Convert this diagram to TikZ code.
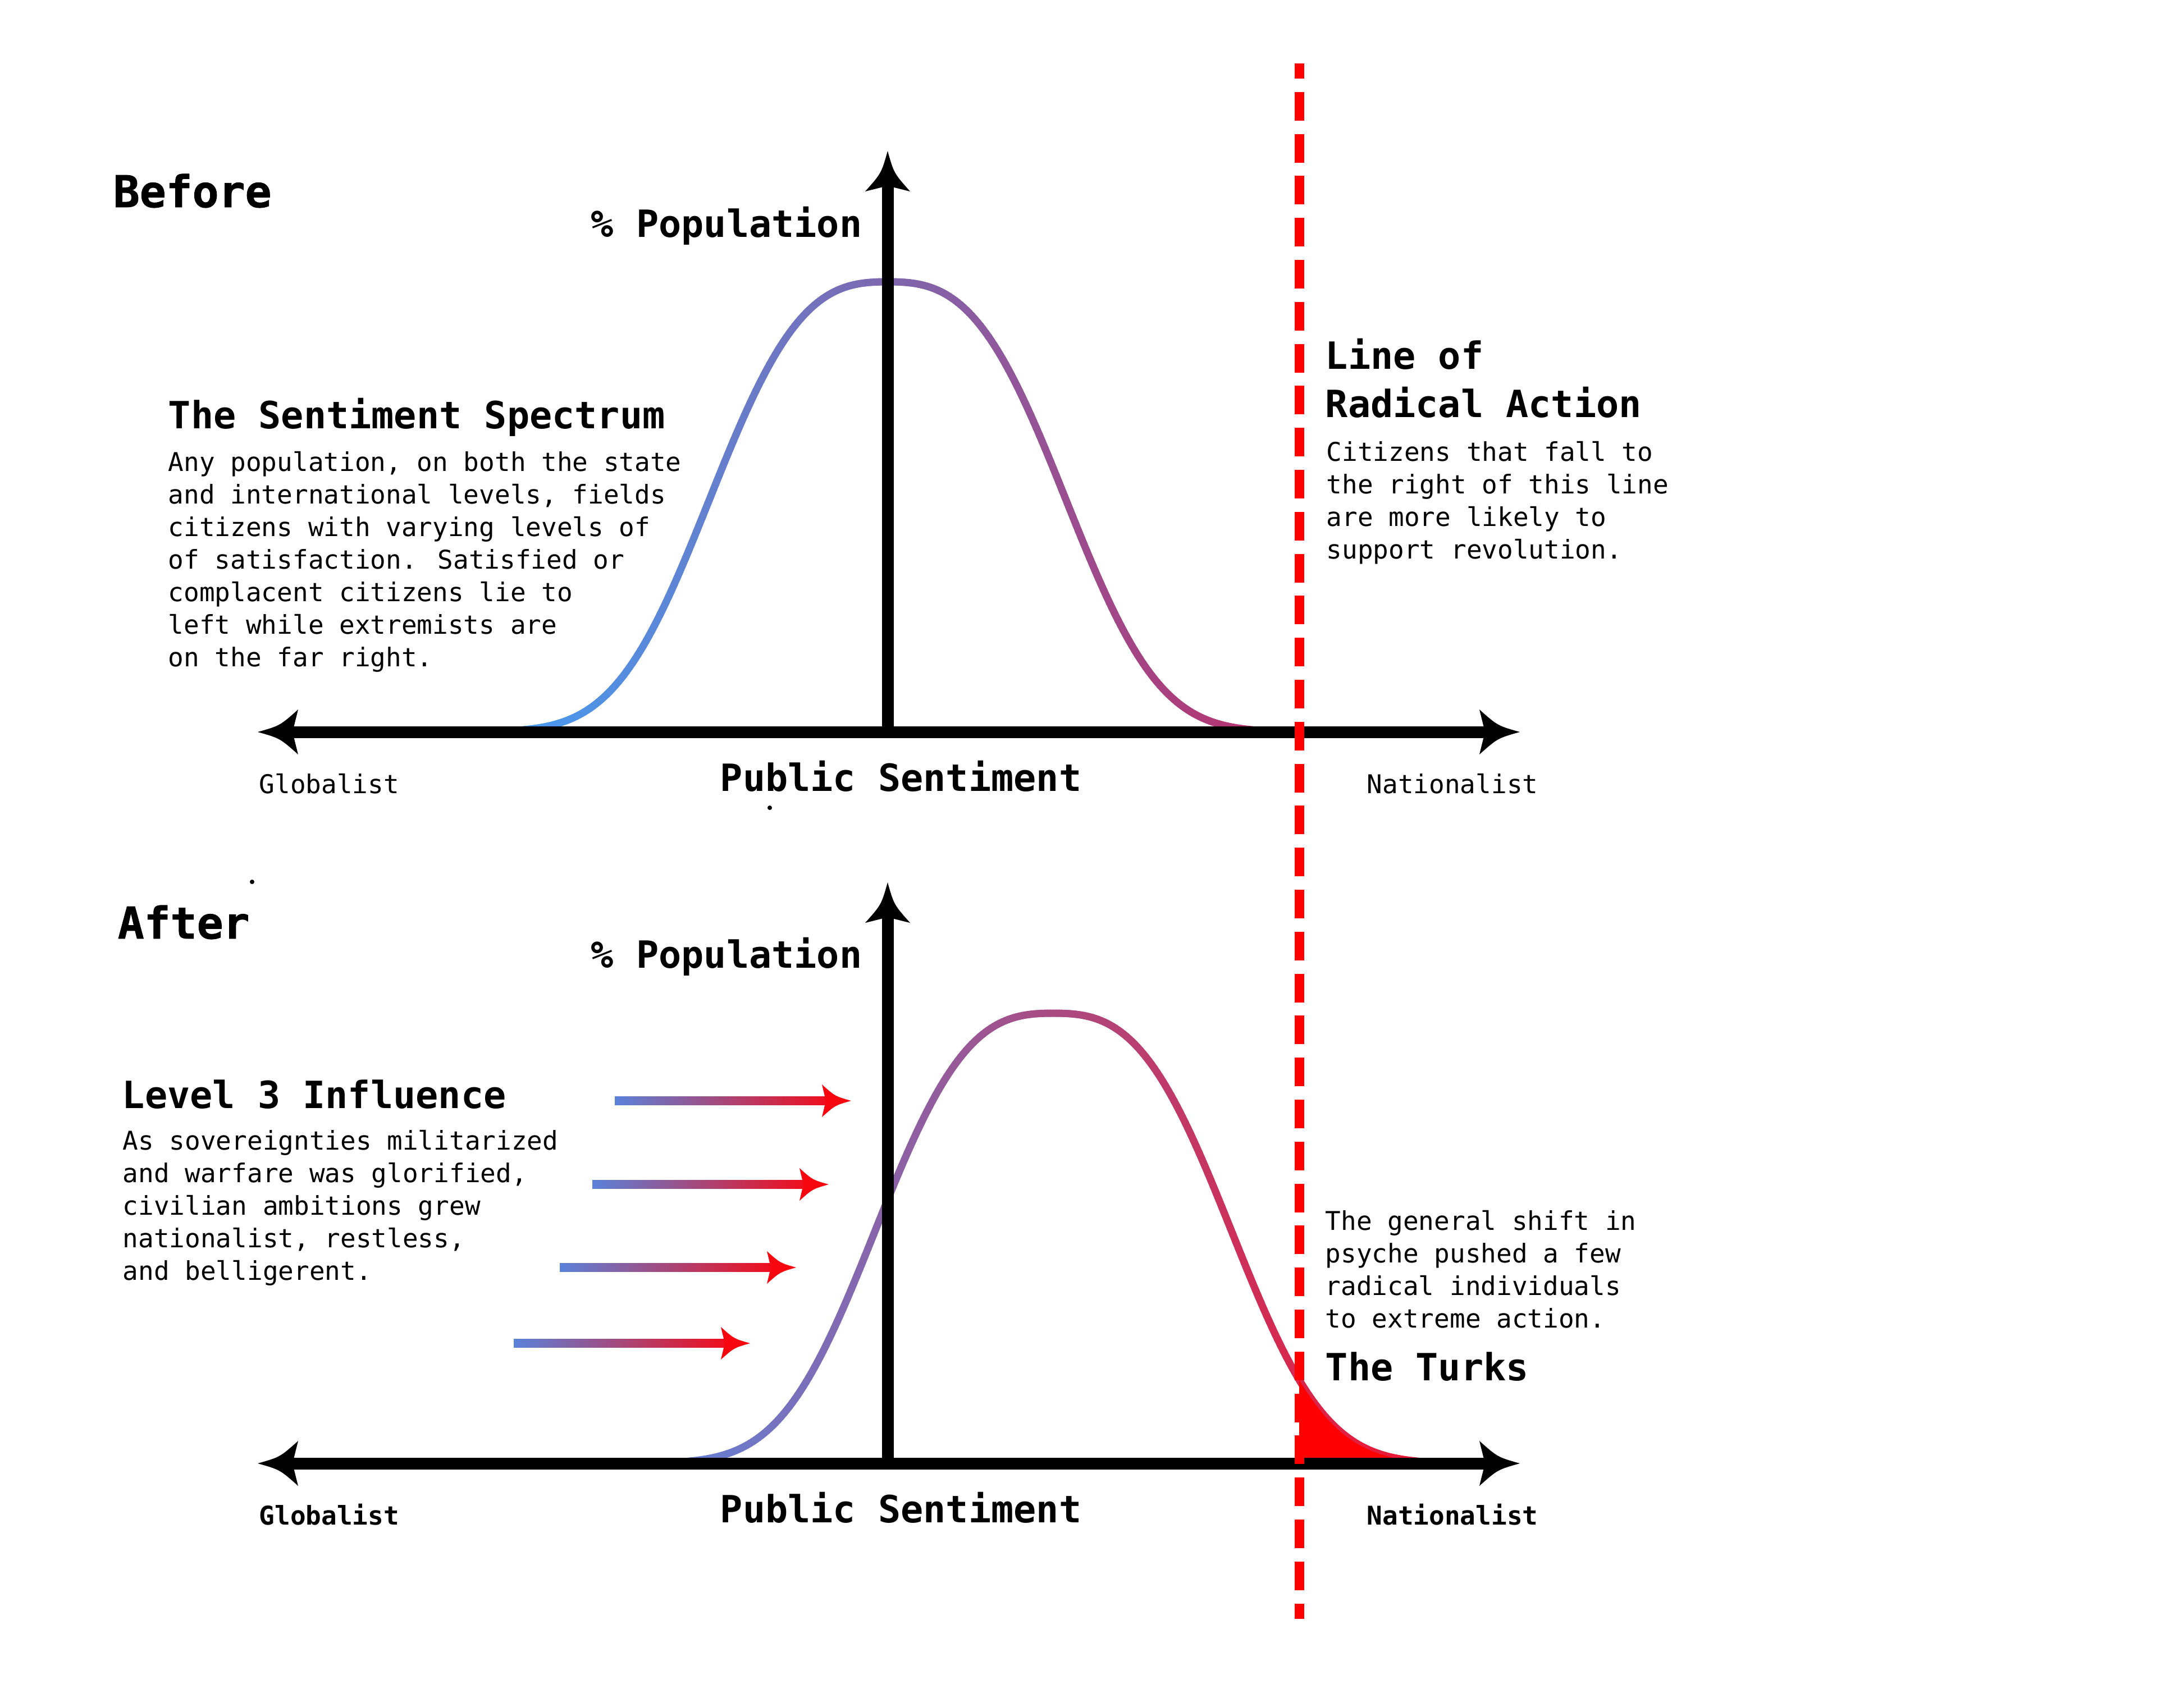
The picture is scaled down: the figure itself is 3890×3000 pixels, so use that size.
\documentclass[tikz,border=0pt]{standalone}
\usepackage{fontspec}
\usepackage{xfp}
\newfontfamily\dmono{DejaVu Sans Mono}
\newfontfamily\dmonoheavy[FakeBold=1.2]{DejaVu Sans Mono Bold}
\usetikzlibrary{calc}
\definecolor{topA}{RGB}{70,155,240}
\definecolor{topB}{RGB}{182,52,112}
\definecolor{botA}{RGB}{100,128,212}
\definecolor{botB}{RGB}{238,22,50}
\definecolor{arrA}{RGB}{90,130,218}
\definecolor{arrB}{RGB}{240,14,28}
\definecolor{headred}{RGB}{248,6,16}
\definecolor{pure}{RGB}{255,0,0}
\newcommand{\txtlines}[1]{\begin{tabular}[t]{@{}l@{}}#1\end{tabular}}
\newcommand{\bellval}[2]{\fpeval{round(802*exp(-(0.72e-6*(#1-#2)^2+1.84e-8*abs(#1-#2)^3)),2)}}
\newcommand{\bell}[4]{%
  \foreach \i in {0,...,259}{%
    \edef\xa{\fpeval{#1-650+5*\i}}%
    \edef\xb{\fpeval{#1-645+5*\i}}%
    \edef\ya{\fpeval{#2-\bellval{\xa}{#1}}}%
    \edef\yb{\fpeval{#2-\bellval{\xb}{#1}}}%
    \edef\pc{\fpeval{round(100*(\i+0.5)/260,2)}}%
    \draw[curve, #4!\pc!#3] (\xa,\ya) -- (\xb,\yb);
  }}
\tikzset{
  pics/headR/.style n args={3}{code={\fill (0,0) .. controls (-0.55*#1,0.28*#2) .. (-#1,#2) -- (-#1+#3,0) -- (-#1,-#2) .. controls (-0.55*#1,-0.28*#2) .. (0,0) -- cycle;}},
  pics/headL/.style n args={3}{code={\fill (0,0) .. controls (0.55*#1,0.28*#2) .. (#1,#2) -- (#1-#3,0) -- (#1,-#2) .. controls (0.55*#1,-0.28*#2) .. (0,0) -- cycle;}},
  pics/headU/.style n args={3}{code={\fill (0,0) .. controls (0.28*#2,0.55*#1) .. (#2,#1) -- (0,#1-#3) -- (-#2,#1) .. controls (-0.28*#2,0.55*#1) .. (0,0) -- cycle;}},
}
\begin{document}
\begin{tikzpicture}[x=0.25pt,y=-0.25pt,
  curve/.style={line width=3.25pt, line cap=round},
  axisline/.style={line width=5.25pt, black},
  dashline/.style={line width=4.25pt, draw=pure, dash pattern=on 12.75pt off 5.95pt, dash phase=6pt},
  titletxt/.style={anchor=base west, inner sep=0pt, font=\dmonoheavy\fontsize{19.5}{23}\selectfont},
  headtxt/.style={anchor=base west, inner sep=0pt, font=\dmono\bfseries\fontsize{16.7}{21.5}\selectfont},
  bodytxt/.style={anchor=base west, inner sep=0pt, font=\dmono\fontsize{11.5}{14.5}\selectfont},
  bodytxtb/.style={anchor=base west, inner sep=0pt, font=\dmono\bfseries\fontsize{11.5}{14.5}\selectfont}]
\fill[white] (0,0) rectangle (3890,3000);
\useasboundingbox (0,0) rectangle (3890,3000);

% curves
\bell{1581}{1304}{topA}{topB}
\bell{1876}{2607}{botA}{botB}
\gdef\fillpts{}
\foreach \k in {0,...,42}{%
  \edef\xk{\fpeval{2314+5*\k}}%
  \edef\yk{\fpeval{2607-\bellval{\xk}{1876}}}%
  \xdef\fillpts{\fillpts -- (\xk,\yk)}}
\fill[pure] (2314,2607) \fillpts -- (2526,2607) -- cycle;

% top axes
\coordinate (tl) at (459,1304);
\coordinate (tr) at (2707,1304);
\coordinate (to) at (1581,1304);
\coordinate (tu) at (1581,269);
\draw[axisline, shorten <=15pt, shorten >=15pt] (tl) -- (tr);
\draw[axisline, shorten >=15pt] (to) -- (tu);
\pic[black] at (tl) {headL={72}{40}{10}};
\pic[black] at (tr) {headR={72}{40}{10}};
\pic[black] at (tu) {headU={72}{40}{10}};

% bottom axes
\coordinate (bl) at (459,2607);
\coordinate (br) at (2707,2607);
\coordinate (bo) at (1581,2607);
\coordinate (bu) at (1581,1572);
\draw[axisline, shorten <=15pt, shorten >=15pt] (bl) -- (br);
\draw[axisline, shorten >=15pt] (bo) -- (bu);
\pic[black] at (bl) {headL={72}{40}{10}};
\pic[black] at (br) {headR={72}{40}{10}};
\pic[black] at (bu) {headU={72}{40}{10}};

% influence arrows
\foreach \n/\yy/\xs/\xt in {1/1961/1095/1516, 2/2110/1055/1476, 3/2258/997/1418, 4/2393/915/1336}{
  \coordinate (as\n) at (\xs,\yy);
  \coordinate (at\n) at (\xt,\yy);
  \shade[left color=arrA, right color=arrB] ($(as\n)+(0,-7.25)$) rectangle ($(at\n)+(-44,7.25)$);
  \pic[headred] at (at\n) {headR={52}{29}{7}};
}

% texts top
\node[titletxt] (before) at (201,369) {Before};
\node[headtxt] (popT) at (1052,422) {\% Population};
\node[headtxt] (specT) at (299,763) {The Sentiment Spectrum};
\node[bodytxt] (specB) at (299,839) {\txtlines{Any population, on both the state\\and international levels, fields\\citizens with varying levels of\\of satisfaction. Satisfied or\\complacent citizens lie to\\left while extremists are\\on the far right.}};
\node[bodytxt] (globT) at (461,1413) {Globalist};
\node[headtxt] (pubT) at (1282,1409) {Public Sentiment};
\node[bodytxt] (natT) at (2434,1413) {Nationalist};
\node[headtxt] (lineT) at (2360,657) {\txtlines{Line of\\Radical Action}};
\node[bodytxt] (citT) at (2362,821) {\txtlines{Citizens that fall to\\the right of this line\\are more likely to\\support revolution.}};

% texts bottom
\node[titletxt] (after) at (209,1672) {After};
\node[headtxt] (popB) at (1052,1724) {\% Population};
\node[headtxt] (lvl) at (217,1974) {Level 3 Influence};
\node[bodytxt] (lvlB) at (218,2048) {\txtlines{As sovereignties militarized\\and warfare was glorified,\\civilian ambitions grew\\nationalist, restless,\\and belligerent.}};
\node[bodytxtb] (globB) at (461,2716) {Globalist};
\node[headtxt] (pubB) at (1282,2712) {Public Sentiment};
\node[bodytxtb] (natB) at (2434,2716) {Nationalist};
\node[bodytxt] (shift) at (2360,2191) {\txtlines{The general shift in\\psyche pushed a few\\radical individuals\\to extreme action.}};
\node[headtxt] (turks) at (2360,2459) {The Turks};

% stray dots
\fill (1371,1439) circle (1pt);
\fill (449,1571) circle (1pt);

% line of radical action
\coordinate (dtop) at (2314.5,113);
\coordinate (dbot) at (2314.5,2884);
\draw[dashline] (dtop) -- (dbot);
\end{tikzpicture}
\end{document}
